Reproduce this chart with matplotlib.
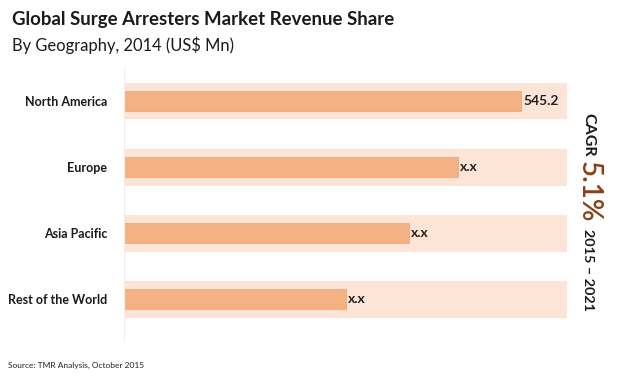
import matplotlib
matplotlib.use("Agg")
import matplotlib.pyplot as plt

categories = ["North America", "Europe", "Asia Pacific", "Rest of the World"]
values = [545.2, 459, 391, 305]
labels = ["545.2", "x.x", "x.x", "x.x"]
band_max = 608

plt.rcParams['font.family'] = ['Lato', 'DejaVu Sans']

fig = plt.figure(figsize=(6.2, 3.77), dpi=100)
W, H = 620, 377
ax = fig.add_axes([124 / W, 1 - 340 / H, (575 - 124) / W, (340 - 68) / H])

ypos = list(range(len(categories)))
ax.barh(ypos, [band_max] * len(categories), height=0.56, color="#fce4d6", zorder=1)
ax.barh(ypos, values, height=0.29, color="#f4b183", edgecolor="#f0a878", linewidth=0.6, zorder=2)
for y, v, lab in zip(ypos, values, labels):
    ax.text(v + 3, y, lab, va="center", ha="left", fontsize=10, fontweight="bold", color="#222222", zorder=3)

ax.set_xlim(0, 619.5)
ax.set_ylim(3.62, -0.5)
ax.set_yticks(ypos)
ax.set_yticklabels(categories, fontsize=9, fontweight="bold", color="#1a1a1a")
ax.tick_params(axis="y", length=0, pad=12)
ax.set_xticks([])
for s in ["top", "right", "bottom"]:
    ax.spines[s].set_visible(False)
ax.spines["left"].set_color("#eeeeee")
ax.spines["left"].set_linewidth(0.8)

fig.text(12 / W, 1 - 20 / H, "Global Surge Arresters Market Revenue Share", fontsize=13.4,
         fontweight="bold", ha="left", va="center", color="#1a1a1a")
fig.text(12 / W, 1 - 45 / H, "By Geography, 2014 (US$ Mn)", fontsize=11.9,
         ha="left", va="center", color="#1a1a1a")
fig.text(8 / W, 1 - 365 / H, "Source: TMR Analysis, October 2015", fontsize=6,
         ha="left", va="center", color="#222222")

cx = 588 / W
fig.text(cx, 1 - 113 / H, "CAGR", rotation=-90, fontsize=11.5, fontweight="bold",
         ha="center", va="top", color="#1a1a1a")
fig.text(cx + 1 / W, 1 - 161 / H, "5.1%", rotation=-90, fontsize=20, fontweight="semibold",
         ha="center", va="top", color="#8b3e14")
fig.text(cx, 1 - 229 / H, "2015 \u2013 2021", rotation=-90, fontsize=10.4, fontweight="bold",
         ha="center", va="top", color="#1a1a1a")

fig.savefig("out.png", dpi=100)
